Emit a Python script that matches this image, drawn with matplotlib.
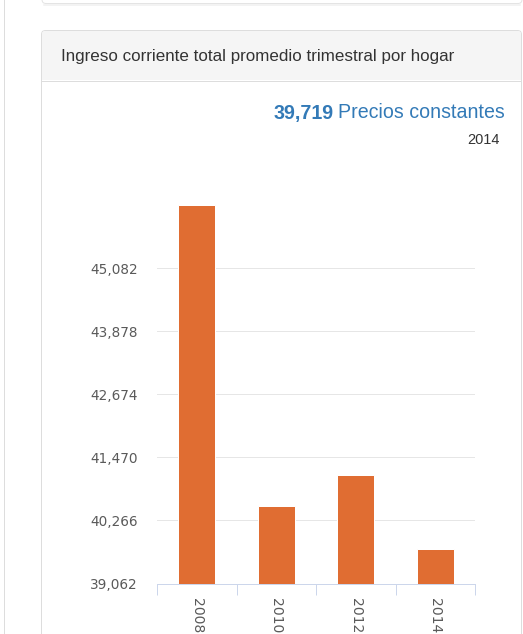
import matplotlib
matplotlib.use("Agg")
import matplotlib.pyplot as plt
from matplotlib.patches import FancyBboxPatch, Rectangle

# ---- data ----
years = ["2008", "2010", "2012", "2014"]
income = [46290, 40549, 41135, 39719]
y_ticks = [39062, 40266, 41470, 42674, 43878, 45082]
y_tick_labels = ["39,062", "40,266", "41,470", "42,674", "43,878", "45,082"]
headline_value = "39,719"
headline_unit = "Precios constantes"
headline_year = "2014"
title = "Ingreso corriente total promedio trimestral por hogar"

W, H, DPI = 523, 634, 100
PT = 72.0 / DPI  # points per pixel

fig = plt.figure(figsize=(W / DPI, H / DPI), dpi=DPI)
fig.patch.set_facecolor("white")

# ---- page / panel chrome, drawn in pixel coordinates ----
bg = fig.add_axes([0, 0, 1, 1], zorder=0)
bg.set_xlim(0, W)
bg.set_ylim(H, 0)
bg.axis("off")

border = "#dddddd"
bg.plot([3.5, 3.5], [0, H], color=border, lw=1.0 * PT)

# bottom edge of the card above
bg.add_patch(FancyBboxPatch((42, -40), 480, 43.5, boxstyle="round,pad=0,rounding_size=4",
                            fc="white", ec="#e4e4e4", lw=1.0 * PT))
bg.plot([44, 520], [5.0, 5.0], color="#f0f0f0", lw=1.5 * PT)

# panel body
bg.add_patch(FancyBboxPatch((41.5, 30.5), 480, 700, boxstyle="round,pad=0,rounding_size=4",
                            fc="white", ec=border, lw=1.0 * PT))
bg.add_patch(FancyBboxPatch((42, 31), 479, 49, boxstyle="round,pad=0,rounding_size=3.5",
                            fc="#f5f5f5", ec="none"))
bg.add_patch(Rectangle((42, 70), 479, 10, fc="#f5f5f5", ec="none"))
bg.plot([42, 521], [80.5, 80.5], color=border, lw=1.0 * PT)

bg.text(61, 56, title, fontsize=17 * PT, family="Liberation Sans", color="#333333",
        ha="left", va="center")

blue = "#337ab7"
t_unit = bg.text(505, 113, headline_unit, fontsize=19.6 * PT, family="Liberation Sans",
                 color=blue, ha="right", va="center")
fig.canvas.draw()
ext = t_unit.get_window_extent(fig.canvas.get_renderer())
x_left_px = ext.x0  # display pixels == figure pixels at this dpi
bg.text(x_left_px - 5, 113, headline_value, fontsize=19.6 * PT, family="Liberation Sans",
        fontweight="bold", color=blue, ha="right", va="center")
bg.text(500, 140, headline_year, fontsize=14.5 * PT, family="Liberation Sans",
        color="#333333", ha="right", va="center")

# ---- chart ----
left_px, right_px = 157, 475
base_px, top_px = 583.5, 150
px_per_unit = (583.5 - 268) / (y_ticks[-1] - y_ticks[0])
y_min = y_ticks[0]
y_max = y_min + (base_px - top_px) / px_per_unit

ax = fig.add_axes([left_px / W, (H - base_px) / H, (right_px - left_px) / W,
                   (base_px - top_px) / H], zorder=1)
ax.patch.set_alpha(0)

x = list(range(len(years)))
ax.bar(x, income, width=0.465, bottom=0, color="#e06d32", edgecolor="white",
       linewidth=1.0 * PT, zorder=3)
ax.set_xlim(-0.5, len(years) - 0.5)
ax.set_ylim(y_min, y_max)

for v in y_ticks[1:]:
    ax.axhline(v, color="#e6e6e6", lw=1.0 * PT, zorder=1)

for s in ["top", "right", "left"]:
    ax.spines[s].set_visible(False)
ax.spines["bottom"].set_color("#ccd6eb")
ax.spines["bottom"].set_linewidth(1.0 * PT)

ax.set_yticks(y_ticks)
ax.set_yticklabels(y_tick_labels)
ax.tick_params(axis="y", length=0, pad=19 * PT, labelsize=13.6 * PT, labelcolor="#5a5a5a")

ax.set_xticks(x)
ax.set_xticklabels(years, rotation=-90, va="top", ha="center")
ax.tick_params(axis="x", which="major", length=0, pad=14 * PT, labelsize=14 * PT,
               labelcolor="#5a5a5a")
ax.set_xticks([i - 0.5 for i in range(len(years) + 1)], minor=True)
ax.tick_params(axis="x", which="minor", length=11 * PT, width=1.0 * PT, color="#ccd6eb",
               direction="out")

fig.savefig("out.png", dpi=DPI)
